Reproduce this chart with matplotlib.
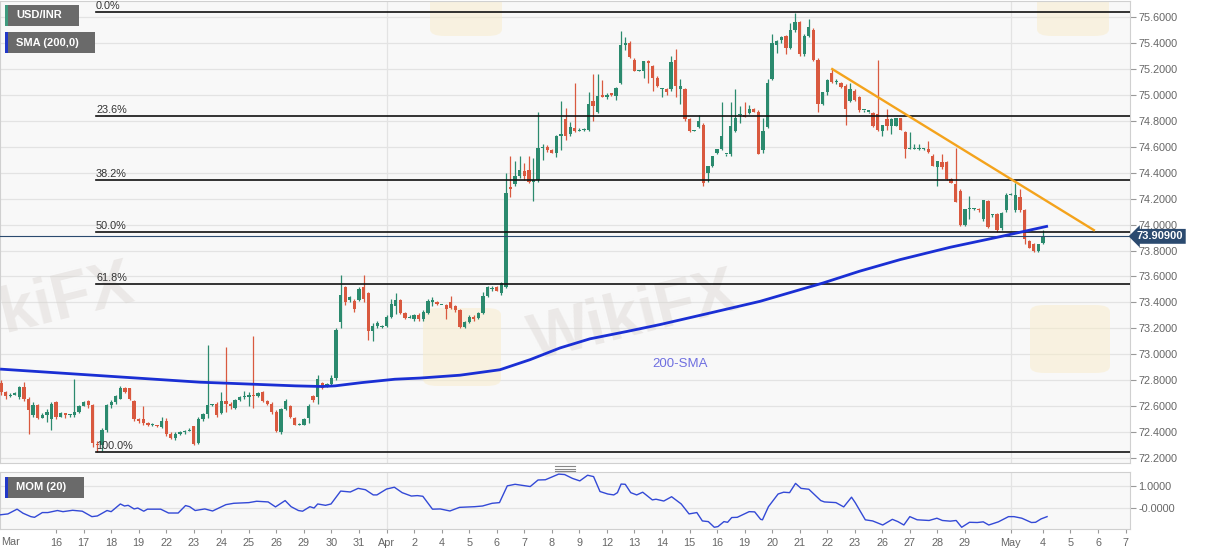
import numpy as np
import matplotlib.pyplot as plt
from matplotlib.patches import Rectangle, FancyBboxPatch
from matplotlib.transforms import blended_transform_factory

plt.rcParams['font.family'] = ['Liberation Sans', 'DejaVu Sans']

# USD/INR 4-hour candles
opens = [
    72.78, 72.71, 72.68, 72.69, 72.67, 72.75, 72.66, 72.53, 72.61, 72.51, 72.53, 72.50,
    72.63, 72.52, 72.55, 72.53, 72.53, 72.56, 72.60, 72.64, 72.61, 72.31, 72.30, 72.42,
    72.61, 72.63, 72.66, 72.74, 72.74, 72.64, 72.50, 72.50, 72.47, 72.46, 72.46, 72.44,
    72.49, 72.39, 72.36, 72.39, 72.40, 72.41, 72.45, 72.32, 72.50, 72.54, 72.61, 72.62,
    72.55, 72.64, 72.62, 72.59, 72.65, 72.67, 72.67, 72.69, 72.68, 72.71, 72.64, 72.62,
    72.56, 72.40, 72.58, 72.60, 72.51, 72.46, 72.46, 72.51, 72.68, 72.67, 72.78, 72.76,
    72.77, 72.82, 73.25, 73.52, 73.42, 73.41, 73.42, 73.52, 73.47, 73.18, 73.22, 73.21,
    73.22, 73.29, 73.37, 73.42, 73.32, 73.28, 73.27, 73.30, 73.27, 73.32, 73.40, 73.40,
    73.38, 73.38, 73.40, 73.37, 73.34, 73.21, 73.25, 73.29, 73.28, 73.32, 73.45, 73.50,
    73.52, 73.47, 73.52, 74.29, 74.31, 74.37, 74.41, 74.42, 74.33, 74.34, 74.59, 74.60,
    74.57, 74.55, 74.68, 74.81, 74.70, 74.74, 74.72, 74.73, 74.73, 74.95, 74.87, 75.00,
    74.98, 75.01, 74.99, 75.09, 75.38, 75.40, 75.27, 75.18, 75.18, 75.26, 75.22, 75.13,
    75.04, 75.04, 75.04, 75.27, 75.04, 75.04, 74.81, 74.72, 74.75, 74.77, 74.40, 74.45,
    74.55, 74.58, 74.54, 74.54, 74.72, 74.84, 74.84, 74.86, 74.89, 74.87, 74.57, 74.75,
    75.12, 75.38, 75.42, 75.45, 75.36, 75.50, 75.56, 75.31, 75.45, 75.50, 75.27, 74.93,
    75.02, 75.17, 75.10, 75.09, 75.07, 74.95, 75.03, 74.98, 74.88, 74.87, 74.86, 74.85,
    74.72, 74.81, 74.76, 74.76, 74.82, 74.71, 74.58, 74.58, 74.58, 74.58, 74.58, 74.53,
    74.44, 74.48, 74.48, 74.35, 74.31, 74.26, 74.00, 74.12, 74.12, 74.12, 74.04, 74.18,
    74.07, 74.08, 73.97, 74.11, 74.23, 74.11, 74.21, 74.11, 73.87, 73.85, 73.80, 73.86,
]
highs = [
    72.80, 72.72, 72.70, 72.71, 72.76, 72.79, 72.67, 72.63, 72.62, 72.55, 72.58, 72.63,
    72.64, 72.56, 72.55, 72.54, 72.81, 72.61, 72.64, 72.65, 72.62, 72.33, 72.43, 72.62,
    72.65, 72.69, 72.76, 72.75, 72.74, 72.65, 72.51, 72.60, 72.48, 72.47, 72.46, 72.52,
    72.51, 72.40, 72.40, 72.41, 72.42, 72.43, 72.45, 72.52, 72.55, 73.07, 72.62, 72.63,
    72.71, 73.06, 72.63, 72.66, 72.68, 72.72, 72.71, 73.14, 72.71, 72.72, 72.65, 72.63,
    72.57, 72.59, 72.66, 72.61, 72.52, 72.47, 72.51, 72.62, 72.69, 72.84, 72.79, 72.78,
    72.84, 73.20, 73.61, 73.53, 73.45, 73.43, 73.52, 73.61, 73.48, 73.24, 73.26, 73.23,
    73.30, 73.43, 73.47, 73.43, 73.33, 73.30, 73.31, 73.32, 73.34, 73.43, 73.44, 73.41,
    73.38, 73.39, 73.45, 73.38, 73.35, 73.26, 73.30, 73.30, 73.33, 73.48, 73.53, 73.53,
    73.53, 73.56, 74.40, 74.53, 74.49, 74.53, 74.47, 74.53, 74.51, 74.87, 74.62, 74.61,
    74.58, 74.69, 74.95, 74.90, 74.79, 75.09, 74.74, 74.74, 75.02, 75.16, 75.16, 75.11,
    75.01, 75.01, 75.06, 75.49, 75.44, 75.41, 75.28, 75.19, 75.26, 75.27, 75.23, 75.14,
    75.05, 75.05, 75.30, 75.35, 75.12, 75.05, 74.82, 74.73, 74.84, 74.78, 74.45, 74.53,
    74.58, 74.94, 74.54, 74.94, 75.04, 74.91, 74.94, 74.92, 74.90, 74.88, 74.82, 75.12,
    75.47, 75.42, 75.45, 75.46, 75.55, 75.63, 75.57, 75.47, 75.58, 75.51, 75.28, 75.02,
    75.12, 75.20, 75.12, 75.10, 75.08, 75.09, 75.04, 74.99, 74.88, 74.87, 74.87, 75.27,
    74.77, 74.89, 74.82, 74.82, 74.82, 74.72, 74.71, 74.62, 74.62, 74.59, 74.64, 74.54,
    74.49, 74.54, 74.49, 74.36, 74.59, 74.27, 74.12, 74.22, 74.13, 74.13, 74.19, 74.19,
    74.08, 74.09, 74.10, 74.24, 74.24, 74.32, 74.27, 74.12, 73.88, 73.86, 73.85, 73.96,
]
lows = [
    72.69, 72.66, 72.67, 72.69, 72.66, 72.64, 72.39, 72.52, 72.50, 72.51, 72.48, 72.42,
    72.50, 72.52, 72.51, 72.52, 72.52, 72.55, 72.60, 72.59, 72.29, 72.25, 72.26, 72.40,
    72.59, 72.62, 72.66, 72.70, 72.65, 72.49, 72.47, 72.46, 72.45, 72.45, 72.44, 72.43,
    72.37, 72.35, 72.34, 72.38, 72.39, 72.41, 72.30, 72.31, 72.49, 72.51, 72.60, 72.52,
    72.54, 72.56, 72.58, 72.58, 72.64, 72.66, 72.60, 72.59, 72.67, 72.63, 72.61, 72.54,
    72.40, 72.39, 72.57, 72.51, 72.46, 72.46, 72.46, 72.47, 72.63, 72.62, 72.73, 72.75,
    72.76, 72.80, 73.20, 73.38, 73.40, 73.33, 73.41, 73.40, 73.11, 73.10, 73.20, 73.20,
    73.21, 73.28, 73.31, 73.31, 73.27, 73.28, 73.26, 73.26, 73.26, 73.31, 73.37, 73.38,
    73.38, 73.27, 73.35, 73.33, 73.20, 73.20, 73.24, 73.26, 73.27, 73.31, 73.44, 73.49,
    73.49, 73.46, 73.51, 74.21, 74.30, 74.36, 74.34, 74.32, 74.18, 74.33, 74.50, 74.56,
    74.55, 74.52, 74.57, 74.65, 74.68, 74.71, 74.72, 74.72, 74.72, 74.80, 74.86, 74.98,
    74.97, 74.99, 74.96, 75.08, 75.34, 75.28, 75.18, 75.18, 75.13, 75.09, 75.03, 75.06,
    74.98, 75.00, 75.03, 74.98, 74.93, 74.80, 74.71, 74.72, 74.74, 74.30, 74.33, 74.44,
    74.54, 74.57, 74.53, 74.53, 74.71, 74.78, 74.83, 74.85, 74.87, 74.54, 74.55, 74.74,
    75.11, 75.32, 75.40, 75.31, 75.35, 75.48, 75.30, 75.30, 75.44, 75.26, 74.87, 74.92,
    75.00, 75.09, 75.08, 75.05, 74.77, 74.94, 74.95, 74.87, 74.87, 74.86, 74.75, 74.72,
    74.68, 74.73, 74.70, 74.76, 74.73, 74.51, 74.58, 74.58, 74.57, 74.57, 74.55, 74.45,
    74.30, 74.43, 74.34, 74.32, 74.17, 73.99, 73.99, 74.04, 74.11, 74.10, 74.03, 73.97,
    74.06, 73.94, 73.96, 74.10, 74.23, 74.10, 74.10, 73.85, 73.82, 73.79, 73.79, 73.85,
]
closes = [
    72.71, 72.68, 72.69, 72.70, 72.75, 72.66, 72.57, 72.61, 72.51, 72.53, 72.56, 72.62,
    72.52, 72.55, 72.53, 72.53, 72.56, 72.60, 72.63, 72.61, 72.32, 72.30, 72.42, 72.61,
    72.63, 72.68, 72.74, 72.71, 72.66, 72.50, 72.49, 72.47, 72.46, 72.46, 72.45, 72.49,
    72.39, 72.36, 72.39, 72.40, 72.41, 72.42, 72.31, 72.50, 72.54, 72.61, 72.61, 72.53,
    72.64, 72.62, 72.60, 72.65, 72.67, 72.68, 72.69, 72.68, 72.70, 72.64, 72.62, 72.56,
    72.41, 72.58, 72.64, 72.52, 72.46, 72.46, 72.50, 72.60, 72.65, 72.81, 72.74, 72.77,
    72.82, 73.19, 73.46, 73.40, 73.44, 73.35, 73.50, 73.43, 73.18, 73.22, 73.24, 73.22,
    73.29, 73.39, 73.42, 73.32, 73.28, 73.29, 73.30, 73.27, 73.33, 73.41, 73.42, 73.39,
    73.38, 73.35, 73.36, 73.34, 73.21, 73.25, 73.29, 73.27, 73.32, 73.45, 73.52, 73.51,
    73.49, 73.55, 74.24, 74.27, 74.37, 74.42, 74.37, 74.33, 74.34, 74.59, 74.60, 74.57,
    74.55, 74.68, 74.70, 74.68, 74.75, 74.72, 74.73, 74.73, 74.93, 74.91, 74.99, 74.98,
    75.00, 75.00, 75.05, 75.38, 75.40, 75.29, 75.18, 75.18, 75.26, 75.24, 75.13, 75.07,
    75.04, 75.02, 75.25, 75.07, 75.07, 74.81, 74.72, 74.72, 74.80, 74.32, 74.45, 74.53,
    74.58, 74.68, 74.54, 74.76, 74.82, 74.85, 74.83, 74.89, 74.87, 74.54, 74.72, 75.09,
    75.40, 75.41, 75.44, 75.36, 75.50, 75.56, 75.31, 75.45, 75.52, 75.27, 74.93, 75.02,
    75.11, 75.10, 75.10, 75.06, 74.89, 75.04, 74.96, 74.88, 74.88, 74.87, 74.76, 74.73,
    74.77, 74.76, 74.81, 74.82, 74.73, 74.58, 74.58, 74.58, 74.58, 74.58, 74.56, 74.45,
    74.49, 74.44, 74.35, 74.32, 74.17, 74.00, 74.12, 74.12, 74.12, 74.11, 74.19, 73.98,
    74.07, 73.96, 74.09, 74.23, 74.23, 74.23, 74.11, 73.89, 73.82, 73.80, 73.85, 73.91,
]

# 200-SMA, sampled along the line (candle index, value)
sma_idx = [-0.2, 43.4, 49.5, 64.1, 69.9, 72.8, 78.6, 85.8, 91.3, 100.0, 108.7, 115.3,
           121.8, 128.3, 136.4, 143.6, 154.5, 165.4, 179.1, 187.0, 195.9, 206.8,
           217.6, 228.1]
sma_val = [72.887, 72.786, 72.778, 72.758, 72.753, 72.758, 72.783, 72.809, 72.818,
           72.840, 72.882, 72.960, 73.050, 73.120, 73.177, 73.230, 73.319, 73.409,
           73.550, 73.640, 73.730, 73.825, 73.906, 73.988]

# momentum (20), sampled along the line
mom_idx = [-0.2, 1.5, 3.5, 4.8, 6.5, 7.3, 9.0, 10.2, 12.3, 13.5, 15.6, 17.7, 19.8, 21.0,
           23.1, 24.0, 26.0, 26.9, 27.7, 29.0, 29.8, 31.1, 31.9, 34.8, 36.5, 38.6, 40.2,
           41.1, 42.3, 44.4, 46.1, 49.0, 50.7, 54.0, 55.7, 58.2, 59.8, 61.9, 63.2, 64.8,
           65.7, 67.3, 68.2, 69.0, 70.7, 71.9, 74.0, 76.1, 77.8, 79.4, 81.1, 81.9, 84.0,
           85.7, 87.4, 89.4, 90.7, 91.9, 94.0, 95.7, 97.8, 99.9, 103.2, 104.9, 107.0,
           108.6, 110.3, 112.0, 113.6, 115.3, 117.0, 118.6, 121.5, 122.8, 124.5, 126.1,
           127.8, 129.1, 130.5, 132.2, 133.5, 134.3, 135.1, 136.0, 137.2, 138.5, 139.8,
           141.9, 142.7, 144.4, 146.1, 148.2, 149.9, 151.6, 152.8, 154.1, 155.4, 156.2,
           157.5, 158.3, 159.2, 160.4, 163.0, 164.2, 165.5, 165.9, 167.2, 169.3, 170.5,
           171.8, 173.1, 174.3, 176.0, 178.6, 179.4, 181.9, 183.6, 185.3, 186.1, 188.3,
           189.9, 192.1, 194.2, 195.4, 196.7, 198.0, 199.6, 202.2, 203.9, 205.1, 206.8,
           208.1, 209.3, 211.0, 212.7, 214.0, 215.2, 217.3, 219.5, 220.7, 222.4, 224.5,
           225.4, 226.6, 227.9]
mom_val = [-0.29, -0.25, -0.04, -0.22, -0.37, -0.40, -0.19, -0.19, -0.10, -0.15, -0.09,
           -0.13, -0.37, -0.34, -0.10, -0.15, 0.19, 0.10, 0.13, -0.03, 0.01, -0.13, -0.04,
           -0.04, -0.21, -0.21, 0.12, 0.07, -0.10, -0.03, -0.12, 0.16, 0.22, 0.25, 0.31,
           0.28, 0.06, 0.34, 0.07, -0.10, -0.13, 0.07, 0.01, 0.19, 0.13, 0.19, 0.76, 0.72,
           0.88, 0.82, 0.59, 0.59, 0.85, 0.93, 0.69, 0.54, 0.56, 0.53, -0.04, -0.03, -0.12,
           0.04, 0.07, 0.10, 0.22, 0.25, 0.99, 1.06, 1.01, 0.96, 1.25, 1.26, 1.51, 1.49,
           1.32, 1.21, 1.46, 1.40, 0.74, 0.63, 0.59, 0.69, 1.07, 1.06, 0.69, 0.59, 0.71,
           0.37, 0.40, 0.32, 0.51, 0.19, -0.25, -0.19, -0.56, -0.59, -0.84, -0.81, -0.59,
           -0.62, -0.41, -0.40, -0.15, -0.16, -0.49, -0.51, 0.07, 0.63, 0.71, 0.69, 1.10,
           0.88, 0.84, 0.34, 0.28, 0.25, 0.06, 0.49, 0.25, -0.51, -0.56, -0.74, -0.49,
           -0.59, -0.74, -0.37, -0.51, -0.54, -0.44, -0.54, -0.57, -0.54, -0.84, -0.62,
           -0.63, -0.60, -0.74, -0.60, -0.37, -0.37, -0.44, -0.63, -0.62, -0.47, -0.37]

# Fibonacci swing (low candle index, low, high)
fib_start = 20.7
swing_low = 72.245
swing_high = 75.634
fib_ratios = [0.0, 0.236, 0.382, 0.5, 0.618, 1.0]

# falling trendline end points (candle index, price)
trend_x = [181.1, 238.1]
trend_y = [75.197, 73.957]

last_price = 73.909

tick_pos = [12, 18, 24, 30, 36, 42, 48, 54, 60, 66, 72, 78, 84, 90, 96, 102, 108,
            114, 120, 126, 132, 138, 144, 150, 156, 162, 168, 174, 180, 186, 192,
            198, 204, 210, 220, 227, 233, 239, 245]
tick_labels = ['16', '17', '18', '19', '22', '23', '24', '25', '26', '29', '30', '31',
               'Apr', '2', '4', '5', '6', '7', '8', '9', '12', '13', '14', '15', '16',
               '19', '20', '21', '22', '23', '26', '27', '28', '29', 'May', '4', '5',
               '6', '7']
month_pos = [84, 220]

GREEN = '#2b8a6e'
RED = '#d9593f'
GRID = '#e3e3e3'
TXT = '#666666'

W, H = 1207, 555
fig = plt.figure(figsize=(W / 100, H / 100), dpi=100)
fig.patch.set_facecolor('white')

ax = fig.add_axes([0, 1 - 463 / H, 1130 / W, 462 / H])
axm = fig.add_axes([0, 1 - 529.3 / H, 1130 / W, 57 / H])

xmin, xmax = -0.22, 245.97
for a in (ax, axm):
    a.set_facecolor('#f8f8f8')
    a.set_xlim(xmin, xmax)
    for s in a.spines.values():
        s.set_color('#d0d0d0')
        s.set_linewidth(0.8)
    a.yaxis.tick_right()
    a.tick_params(axis='y', colors='#999999', labelcolor=TXT, labelsize=7.8,
                  length=4, width=0.8, pad=2)

# main panel
ax.set_ylim(72.164, 75.721)
yt = np.round(np.arange(72.2, 75.61, 0.2), 1)
ax.set_yticks(yt)
ax.set_yticklabels(['%.4f' % v for v in yt])
ax.set_xticks([])
for v in yt:
    ax.axhline(v, color=GRID, lw=0.9, zorder=0)
for p in month_pos:
    ax.axvline(p, color=GRID, lw=0.9, zorder=0)
    axm.axvline(p, color=GRID, lw=0.9, zorder=0)

# watermarks
wm = dict(fontsize=46, fontweight='bold', color='#d8d2ce', alpha=0.4, rotation=14,
          ha='center', va='center', transform=fig.transFigure, zorder=1)
ax.text(634 / W, 1 - 318 / H, 'WikiFX', **wm)
ax.text(30 / W, 1 - 310 / H, 'WikiFX', clip_on=True, **wm)
for (x0, y0, w, h) in [(423, 308, 78, 78), (1030, 305, 80, 68), (430, -40, 72, 76),
                       (1037, -40, 72, 76)]:
    ax.add_patch(FancyBboxPatch((x0 / W, 1 - (y0 + h) / H), w / W, h / H,
                                boxstyle='round,pad=0,rounding_size=0.012',
                                transform=fig.transFigure, fc='#f8ecc9', ec='none',
                                alpha=0.5, zorder=1, clip_on=True))

# candles
idx = np.arange(len(closes))
o = np.array(opens)
c = np.array(closes)
hi = np.array(highs)
lo = np.array(lows)
col = np.where(c >= o, GREEN, RED)
ax.vlines(idx, lo, hi, colors=col, lw=0.9, zorder=3)
body = np.maximum(np.abs(c - o), 0.008)
ax.bar(idx, body, bottom=np.minimum(o, c), width=0.72, color=col, lw=0, zorder=4)

# fibonacci retracement
fib_levels = [swing_high - r * (swing_high - swing_low) for r in fib_ratios]
for r, lv in zip(fib_ratios, fib_levels):
    ax.plot([fib_start, xmax], [lv, lv], color='#111111', lw=1.2, zorder=5)
    ax.text(fib_start, lv + 0.012, '%.1f%%' % (r * 100), fontsize=7.8, color='#333333',
            ha='left', va='bottom', zorder=6)

# 200-SMA, trendline, last price
ax.plot(sma_idx, sma_val, color='#1a2fd4', lw=2.0, zorder=6, solid_capstyle='butt',
        solid_joinstyle='round')
ax.text(148, 72.93, '200-SMA', color='#6f6fe0', fontsize=9.5, ha='center', va='center',
        zorder=6)
ax.plot(trend_x, trend_y, color='#f4a31c', lw=1.7, zorder=6)
ax.axhline(last_price, color='#2b4a6f', lw=0.8, zorder=5)
tr = blended_transform_factory(ax.transAxes, ax.transData)
ax.text(1.006, last_price, '%.5f' % last_price, transform=tr, fontsize=8, color='white',
        fontweight='bold', ha='left', va='center', zorder=10, clip_on=False,
        bbox=dict(boxstyle='larrow,pad=0.22', fc='#2b4a6f', ec='none'))

# momentum panel
axm.set_ylim(-0.93, 1.59)
axm.set_yticks([1.0, 0.0])
axm.set_yticklabels(['1.0000', '-0.0000'])
axm.axhline(1.0, color=GRID, lw=0.9, zorder=0)
axm.axhline(0.0, color=GRID, lw=0.9, zorder=0)
axm.plot(mom_idx, mom_val, color='#3349d6', lw=1.0, zorder=3)
axm.set_xticks(tick_pos)
axm.set_xticklabels(tick_labels)
axm.tick_params(axis='x', colors='#999999', labelcolor=TXT, labelsize=7.8, length=3,
                width=0.8, pad=3)
fig.text(1 / W, 1 - 541.7 / H, 'Mar', fontsize=7.8, color=TXT, ha='left', va='center')

# legend boxes
def tag(x0, y0, w, h, label, stripe):
    fig.add_artist(Rectangle((x0 / W, 1 - (y0 + h) / H), w / W, h / H,
                             transform=fig.transFigure, fc='#6a6a6a', ec='none', zorder=20))
    fig.add_artist(Rectangle((x0 / W, 1 - (y0 + h) / H), 2.5 / W, h / H,
                             transform=fig.transFigure, fc=stripe, ec='none', zorder=21))
    fig.text((x0 + 11) / W, 1 - (y0 + h / 2) / H, label, color='white', fontsize=8,
             fontweight='bold', ha='left', va='center', zorder=22)

tag(5, 5, 74, 21, 'USD/INR', '#3f9a7e')
tag(5, 32, 90, 21, 'SMA (200,0)', '#2238c8')
tag(5, 477, 79, 21, 'MOM (20)', '#2238c8')

# panel resize handle
for yy in (466, 468.5, 471):
    fig.add_artist(plt.Line2D([555 / W, 575 / W], [1 - yy / H, 1 - yy / H],
                              transform=fig.transFigure, color='#888888', lw=0.8))

fig.savefig('out.png', dpi=100, facecolor='white')
